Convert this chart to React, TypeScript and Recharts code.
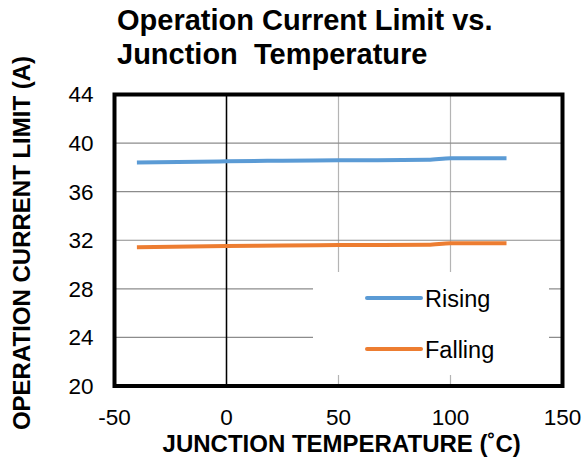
import { CartesianGrid, Legend, Line, LineChart, ReferenceArea, ReferenceLine, XAxis, YAxis } from "recharts"

const temps = [-40, 0, 25, 50, 90, 100, 125]
const rising = [38.4, 38.5, 38.55, 38.58, 38.62, 38.75, 38.75]
const falling = [31.42, 31.52, 31.56, 31.6, 31.63, 31.75, 31.75]
const xTicks = [-50, 0, 50, 100, 150]
const yTicks = [20, 24, 28, 32, 36, 40, 44]

const FONT = "'Liberation Sans', Arial, sans-serif"
const BLUE = "#5B9BD5"
const ORANGE = "#ED7D31"

const data = temps.map((t, i) => ({ t, rising: rising[i], falling: falling[i] }))

function LegendBox() {
    // white box that hides the grid behind it, like the excel legend
    const rows = [
        { name: "Rising", color: BLUE, y: 26 },
        { name: "Falling", color: ORANGE, y: 77 },
    ]
    return (
        <svg width={236} height={103} style={{ display: "block", background: "#fff" }}>
            {rows.map((r) => (
                <g key={r.name}>
                    <line x1={54} x2={108} y1={r.y} y2={r.y} stroke={r.color} strokeWidth={4} strokeLinecap="round" />
                    <text x={112} y={r.y + 8.5} fontSize={23.5} fontFamily={FONT} fill="#000">{r.name}</text>
                </g>
            ))}
        </svg>
    )
}

export default function App() {
    return (
        <div style={{ position: "absolute", left: 0, top: 0, width: 583, height: 461, background: "#fff" }}>
            <LineChart
                width={583}
                height={461}
                data={data}
                margin={{ top: 94.5, right: 20.5, bottom: 15, left: 54.5 }}
            >
                <CartesianGrid horizontal={false} stroke="#b4b4b4" strokeWidth={1.2} />
                <CartesianGrid vertical={false} stroke="#8c8c8c" strokeWidth={1.2} />
                <XAxis
                    type="number"
                    dataKey="t"
                    domain={[-50, 150]}
                    ticks={xTicks}
                    height={60}
                    axisLine={false}
                    tickLine={false}
                    tickMargin={17}
                    tick={{ fill: "#000", fontSize: 22.5, fontFamily: FONT }}
                />
                <YAxis
                    type="number"
                    domain={[20, 44]}
                    ticks={yTicks}
                    width={60}
                    axisLine={false}
                    tickLine={false}
                    tickMargin={15}
                    tick={{ fill: "#000", fontSize: 22.5, fontFamily: FONT }}
                />
                <ReferenceLine x={0} stroke="#000" strokeWidth={1.5} />
                <Line type="monotone" dataKey="rising" name="Rising" stroke={BLUE} strokeWidth={4} dot={false} isAnimationActive={false} />
                <Line type="monotone" dataKey="falling" name="Falling" stroke={ORANGE} strokeWidth={4} dot={false} isAnimationActive={false} />
                <ReferenceArea x1={-50} x2={150} y1={20} y2={44} fill="none" stroke="#000" strokeWidth={4} ifOverflow="visible" />
                <Legend
                    layout="horizontal"
                    verticalAlign="middle"
                    content={() => <LegendBox />}
                    wrapperStyle={{ left: 313, top: 272, width: 236, height: 103 }}
                />
            </LineChart>
            <svg width={583} height={461} style={{ position: "absolute", left: 0, top: 0, pointerEvents: "none" }}>
                <text x={117} y={30} fontSize={29} fontWeight="bold" fontFamily={FONT} fill="#000">Operation Current Limit vs.</text>
                <text x={117} y={63.5} fontSize={29} fontWeight="bold" fontFamily={FONT} fill="#000" style={{ whiteSpace: "pre" }}>Junction  Temperature</text>
                <text x={341.7} y={452} fontSize={24} fontWeight="bold" fontFamily={FONT} fill="#000" textAnchor="middle">JUNCTION TEMPERATURE (˚C)</text>
                <text transform="translate(29.5,243) rotate(-90)" fontSize={24} fontWeight="bold" fontFamily={FONT} fill="#000" textAnchor="middle">OPERATION CURRENT LIMIT (A)</text>
            </svg>
        </div>
    )
}
